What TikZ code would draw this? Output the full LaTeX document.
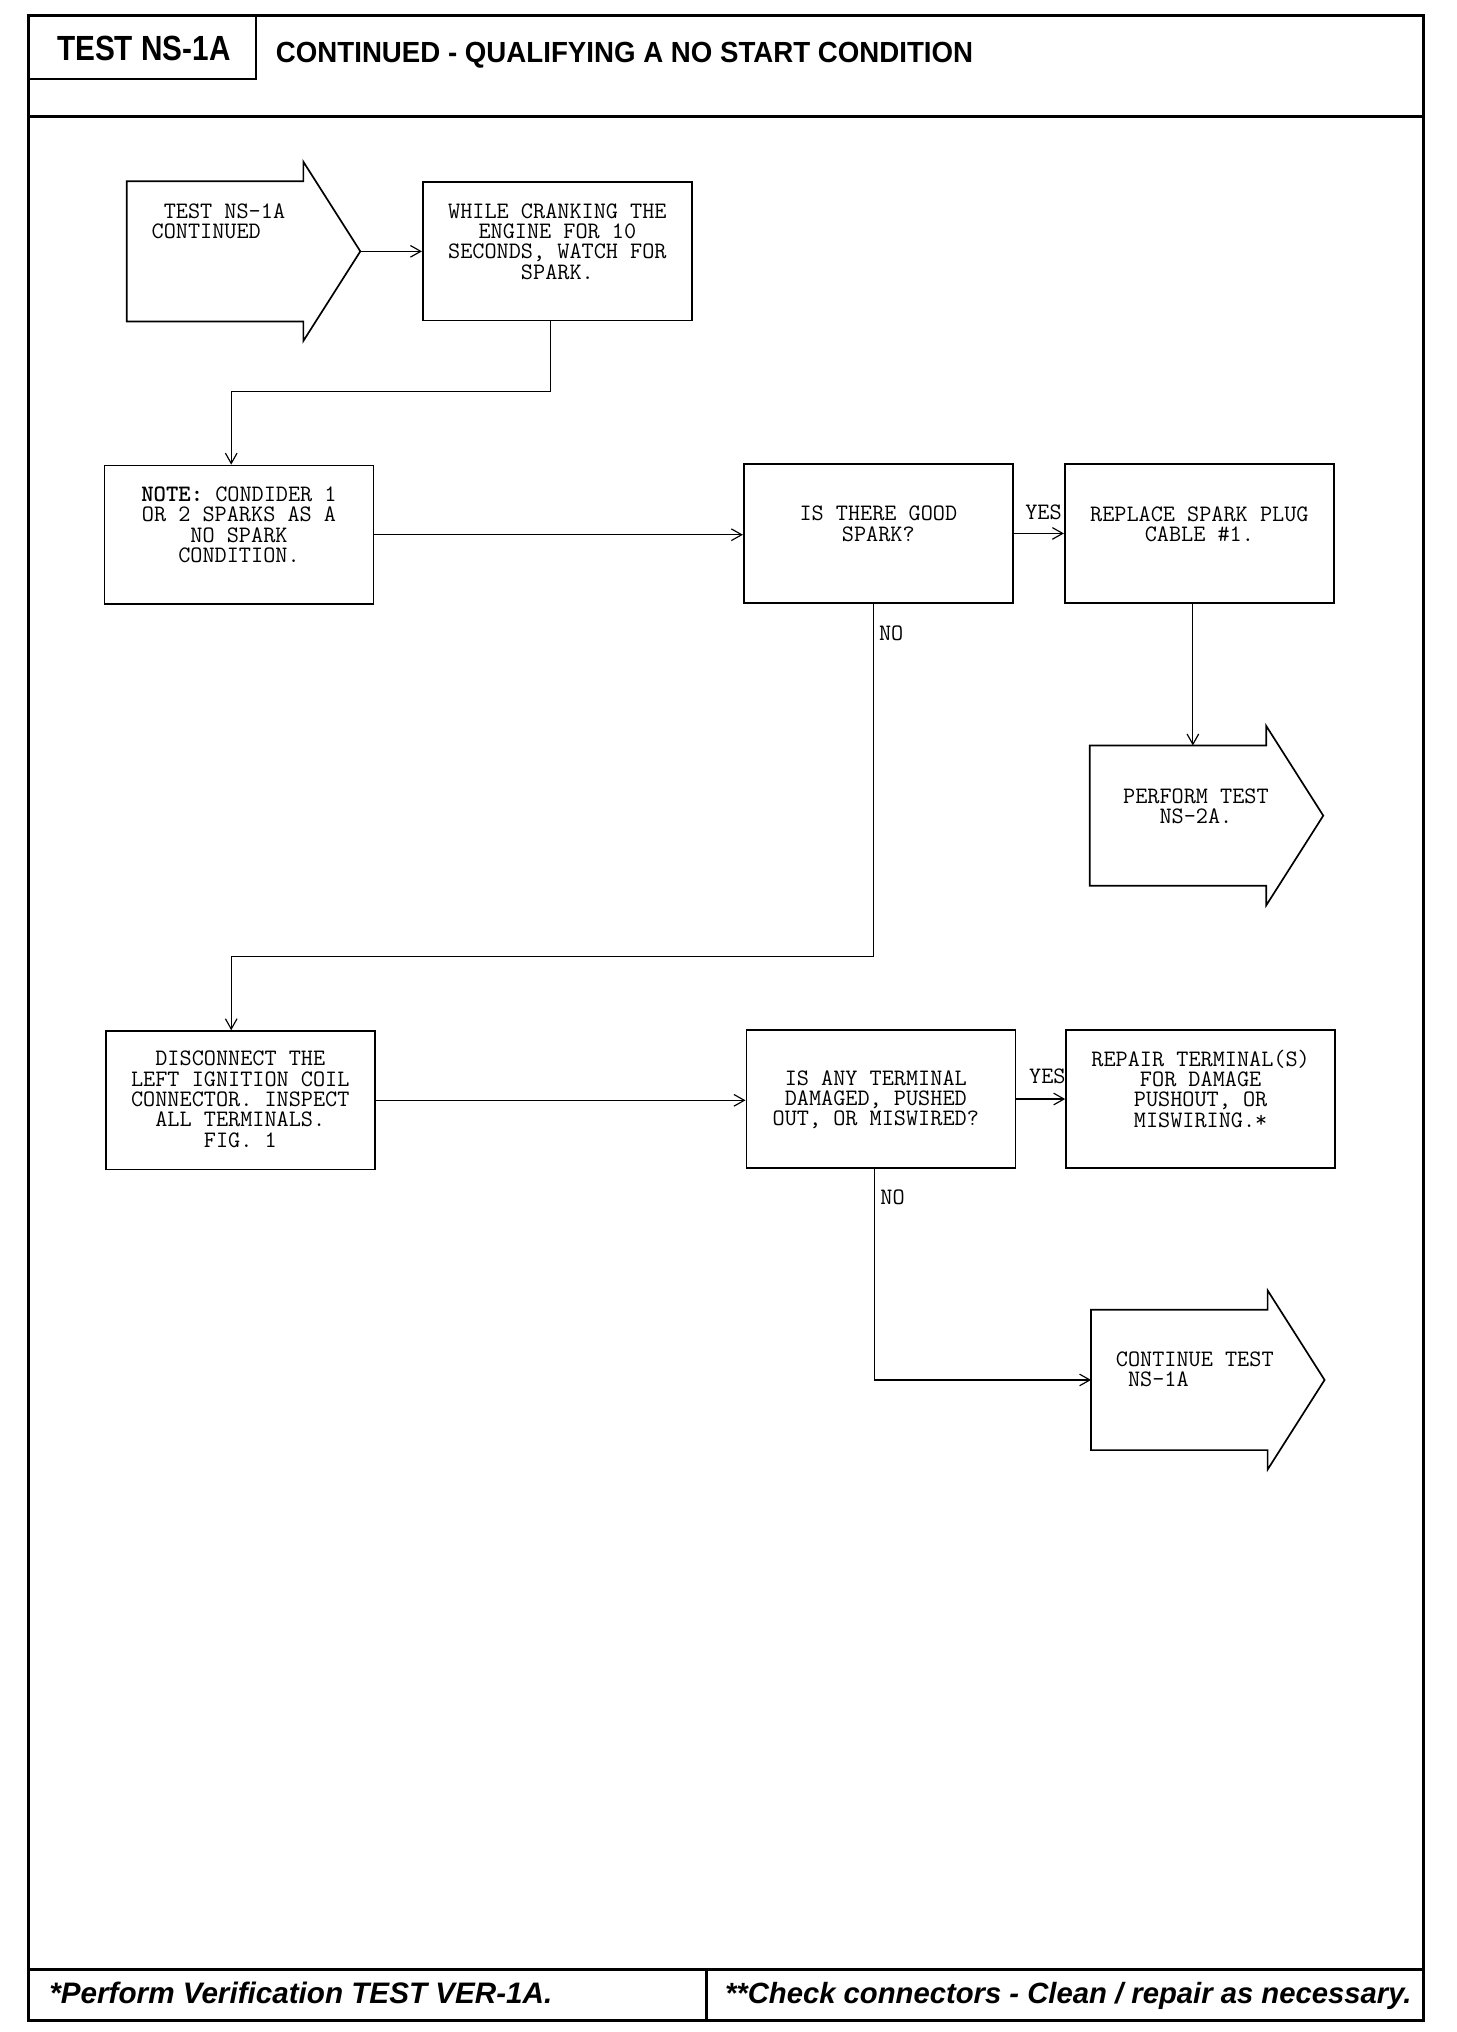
\documentclass[tikz,border=0pt]{standalone}
\usepackage{fontspec}
\usepackage{graphicx}
\setmainfont{Liberation Sans}
\usetikzlibrary{arrows.meta,calc}
\newcommand\monotxt{\fontsize{18.2}{15.7}\selectfont\ttfamily}
\newcommand\fatarrow[1]{\draw[boxline] (#1.north west) -- (#1.north east) -- ($(#1.north east)+(0,-15)$) -- ($(#1.east)+(44,0)$) -- ($(#1.south east)+(0,15)$) -- (#1.south east) -- (#1.south west) -- cycle;}
\begin{document}
\begin{tikzpicture}[x=1pt,y=-1pt,
  frame/.style={line width=2.4pt},
  boxline/.style={line width=1.3pt},
  box/.style={boxline, draw, minimum width=208pt, minimum height=107pt, inner sep=0pt, anchor=north west},
  body/.style={minimum width=136pt, minimum height=108pt, inner sep=0pt, anchor=north west},
  txt/.style={font=\monotxt, align=center, inner sep=0pt, anchor=north},
  ltxt/.style={font=\monotxt, align=left, inner sep=0pt, anchor=north west},
  lab/.style={font=\monotxt, inner sep=0pt, anchor=base west},
  conn/.style={line width=0.9pt, -{Straight Barb[length=8pt,width=9pt]}},
]
\useasboundingbox (0,0) rectangle (1125,1570);
% frame
\draw[frame] (22,12) rectangle (1100,1561);
\draw[frame] (22,90) -- (1100,90);
\draw[frame] (22,1522) -- (1100,1522);
\draw[frame] (546,1522) -- (546,1561);
\draw[line width=1.8pt] (22,61) -- (198,61) -- (198,12);
\node[anchor=base west, inner sep=0pt, font=\fontsize{27}{30}\selectfont\bfseries] (hdr) at (44,47) {\scalebox{0.85}[1]{TEST NS-1A}};
\node[anchor=base west, inner sep=0pt, font=\fontsize{22.5}{26}\selectfont\bfseries] (title) at (213,48) {\scalebox{0.95}[1]{CONTINUED - QUALIFYING A NO START CONDITION}};
\node[anchor=base west, inner sep=0pt, font=\fontsize{22.9}{26}\selectfont\bfseries\itshape] (f1) at (38,1548) {*Perform Verification TEST VER-1A.};
\node[anchor=base west, inner sep=0pt, font=\fontsize{22.6}{26}\selectfont\bfseries\itshape] (f2) at (560,1548) {**Check connectors - Clean / repair as necessary.};

% start arrow
\node[body] (a1) at (98,140) {};
\fatarrow{a1}
\node[ltxt] (a1t) at (117,157) {\phantom{X}TEST NS-1A\\CONTINUED};
\coordinate (a1tip) at ($(a1.east)+(44,0)$);

\node[box] (b1) at (326,140) {};
\node[txt] (b1t) at ($(b1.north)+(0,17)$) {WHILE CRANKING THE\\ENGINE FOR 10\\SECONDS, WATCH FOR\\SPARK.};
\draw[conn] (a1tip) -- (a1tip -| b1.west);

\node[box] (b2) at (80,359) {};
\node[txt] (b2t) at ($(b2.north)+(0,17)$) {\textbf{NOTE:} CONDIDER 1\\OR 2 SPARKS AS A\\NO SPARK\\CONDITION.};
\draw[conn] ([xshift=-5pt]b1.south) -- ++(0,54) -| ([xshift=-6pt]b2.north);

\node[box] (b3) at (574,358) {};
\node[txt] (b3t) at ($(b3.north)+(0,33)$) {IS THERE GOOD\\SPARK?};
\draw[conn] (b2.east) -- (b2.east -| b3.west);

\node[box] (b4) at (822,358) {};
\node[txt] (b4t) at ($(b4.north)+(0,33)$) {REPLACE SPARK PLUG\\CABLE \#1.};
\draw[conn] (b3.east) -- (b4.west);
\node[lab] (yes1) at (792,401) {YES};

\node[body] (a2) at (842,576) {};
\fatarrow{a2}
\node[txt] (a2t) at (924,609) {PERFORM TEST\\NS-2A.};
\draw[conn] ([xshift=-5pt]b4.south) -- ([xshift=-5pt]b4.south |- a2.north);

\node[box] (b5) at (81,796) {};
\node[txt] (b5t) at ($(b5.north)+(0,16)$) {DISCONNECT THE\\LEFT IGNITION COIL\\CONNECTOR. INSPECT\\ALL TERMINALS.\\FIG. 1};
\draw[conn] ([xshift=-4pt]b3.south) -- ++(0,273) -| ([xshift=-7pt]b5.north);
\node[lab] (no1) at (679,495) {NO};

\node[box] (b6) at (576,795) {};
\node[txt] (b6t) at ($(b6.north)+(-4,32)$) {IS ANY TERMINAL\\DAMAGED, PUSHED\\OUT, OR MISWIRED?};
\draw[conn] (b5.east) -- (b5.east -| b6.west);

\node[box] (b7) at (823,795) {};
\node[txt] (b7t) at ($(b7.north)+(0,16)$) {REPAIR TERMINAL(S)\\FOR DAMAGE\\PUSHOUT, OR\\MISWIRING.*};
\draw[conn] (b6.east) -- (b7.west);
\node[lab] (yes2) at (795,837) {YES};

\node[body] (a3) at (843,1012) {};
\fatarrow{a3}
\node[ltxt] (a3t) at (862,1044) {CONTINUE TEST\\\phantom{X}NS-1A};
\draw[conn] ([xshift=-5pt]b6.south) |- (a3.west);
\node[lab] (no2) at (680,931) {NO};
\end{tikzpicture}
\end{document}
